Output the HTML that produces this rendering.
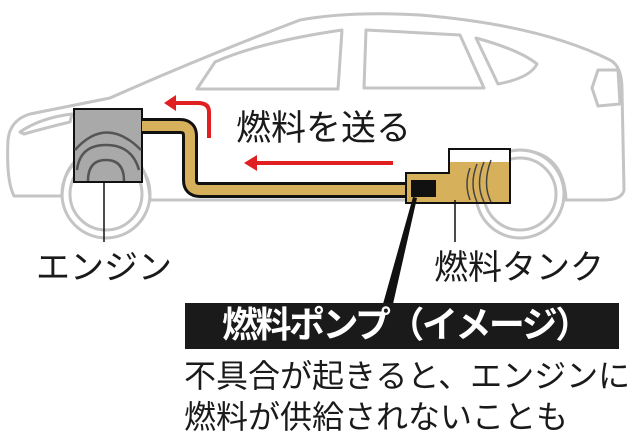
<!DOCTYPE html>
<html><head><meta charset="utf-8"><style>
html,body{margin:0;padding:0;background:#fff;}
body{width:640px;height:441px;position:relative;overflow:hidden;font-family:"Liberation Sans","Noto Sans CJK JP",sans-serif;}
.t{position:absolute;white-space:nowrap;color:#1a1a1a;line-height:1;}
</style></head><body>
<svg width="640" height="441" style="position:absolute;left:0;top:0">
<g fill="none" stroke="#c4c4c4" stroke-width="3" stroke-linejoin="round">
<path d="M62,196 L14,196 Q6,180 8,140 Q10,120 30,114 L110,98 Q200,58 300,20 Q350,11 420,15 Q540,25 610,60 Q622,66 622,90 L624,190 Q622,200 604,200 L566,200 Q564,152 520,150 Q476,152 474,200 L150,200 Q148,150 106,150 Q64,152 62,196"/>
<circle cx="106" cy="194" r="44"/>
<circle cx="106" cy="194" r="36"/>
<circle cx="520" cy="194" r="44"/>
<circle cx="520" cy="194" r="36"/>
<path d="M197,89 L215,62 Q260,42 342,30 L338,89 Z"/>
<path d="M366,30 L460,35 L484,88 L364,88 Z"/>
<path d="M476,38 Q520,50 537,64 Q530,78 498,84 Z"/>
<path d="M592,88 L598,70 L618,70 L620,104 L598,106 Z"/>
<path d="M20,132 Q40,118 72,114 L70,122 Q45,128 24,134 Z"/>
</g>
<rect x="74" y="109" width="68" height="73" fill="#a9a9a9" stroke="#111" stroke-width="2"/>
<g fill="none" stroke="#555" stroke-width="2.5">
<path d="M88,181 Q88,160 106,160 Q124,160 124,181"/>
<path d="M77,170 Q80,145 106,145 Q132,145 139,170"/>
<path d="M75,150 Q106,115 141,150"/>
</g>
<path d="M142,126 L180,126 Q190,126 190,136 L190,180 Q190,190 200,190 L410,190" fill="none" stroke="#111" stroke-width="16"/>
<path d="M142,126 L180,126 Q190,126 190,136 L190,180 Q190,190 200,190 L412,190" fill="none" stroke="#d7b05c" stroke-width="10"/>
<path d="M406,173 L449,173 L449,149 L510,149 L510,203 L406,203 Z" fill="#fff"/>
<path d="M406,174 L450,174 L450,162 L510,162 L510,203 L406,203 Z" fill="#d7b05c"/>
<path d="M406,173 L449,173 L449,149 L510,149 L510,203 L406,203 Z" fill="none" stroke="#111" stroke-width="2"/>
<g fill="none" stroke="#444" stroke-width="1.5">
<path d="M470,168 Q464,184 470,200"/><path d="M477,164 Q469,184 477,202"/><path d="M484,162 Q475,184 484,202"/><path d="M491,160 Q482,184 491,202"/>
</g>
<rect x="411" y="180" width="25" height="17" fill="#111"/>
<g fill="none" stroke="#e02020" stroke-width="4">
<path d="M209,138 L209,112 Q209,103 198,103 L174,103"/>
<path d="M393,163 L252,163"/>
</g>
<polygon points="164,103 176,95 176,111" fill="#e02020"/>
<polygon points="244,163 257,155 257,171" fill="#e02020"/>
<line x1="104" y1="182" x2="104" y2="242" stroke="#111" stroke-width="1.5"/>
<line x1="455" y1="200" x2="455" y2="242" stroke="#111" stroke-width="1.5"/>
<polygon points="413,197 417,198 393,304 383,304" fill="#111"/>
<rect x="185" y="303" width="434" height="46" fill="#1a1a1a"/>
</svg>
<div class="t" style="left:236px;top:111px;font-size:35px;">燃料を送る</div>
<div class="t" style="left:36px;top:251px;font-size:34px;">エンジン</div>
<div class="t" style="left:434px;top:251px;font-size:34px;">燃料タンク</div>
<div class="t" style="left:222px;top:307px;font-size:36px;color:#fff;font-weight:bold;letter-spacing:-2.5px;">燃料ポンプ（イメージ）</div>
<div class="t" style="left:184px;top:360px;font-size:32px;">不具合が起きると、エンジンに</div>
<div class="t" style="left:184px;top:401px;font-size:32px;">燃料が供給されないことも</div>
</body></html>
